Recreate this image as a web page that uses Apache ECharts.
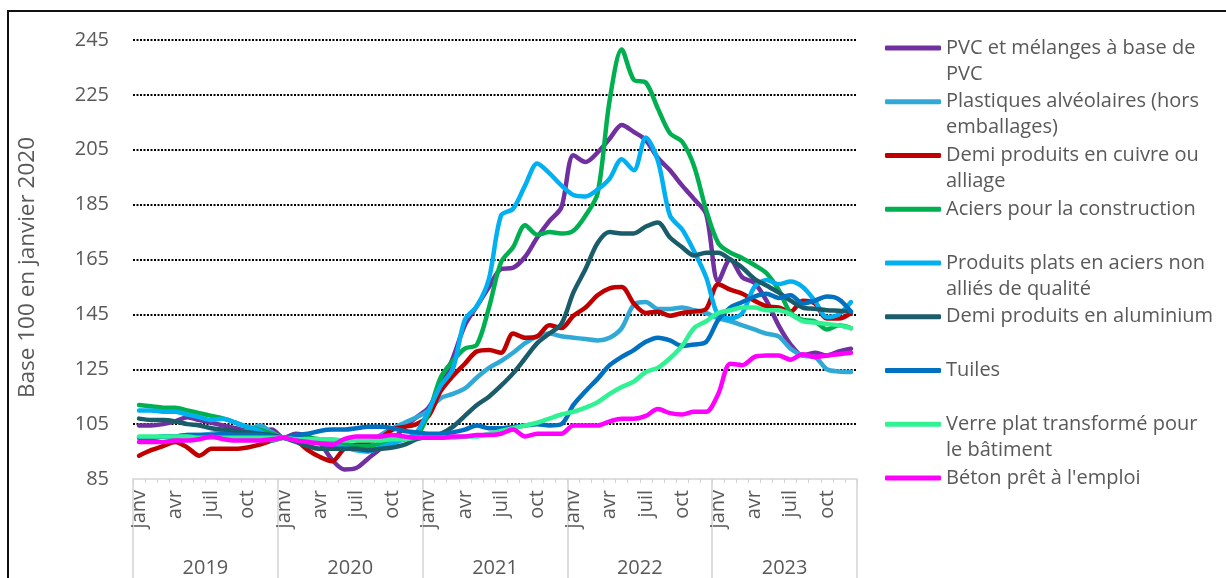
<!DOCTYPE html>
<html>
<head>
<meta charset="utf-8">
<script src="https://cdn.jsdelivr.net/npm/echarts@6/dist/echarts.min.js"></script>
<style>html,body{margin:0;padding:0;background:#fff;}#c{width:1226px;height:578px;}</style>
</head>
<body>
<div id="c"></div>
<script>
const years = ['2019','2020','2021','2022','2023'];
const months = ['janv','févr','mars','avr','mai','juin','juil','août','sept','oct','nov','déc'];
const yTicks = {min: 85, max: 245, step: 20};

const seriesNames = [
  'PVC et mélanges à base de\nPVC',
  'Plastiques alvéolaires (hors\nemballages)',
  'Demi produits en cuivre ou\nalliage',
  'Aciers pour la construction',
  'Produits plats en aciers non\nalliés de qualité',
  'Demi produits en aluminium',
  'Tuiles',
  'Verre plat transformé pour\nle bâtiment',
  "Béton prêt à l'emploi"
];
const seriesColors = ['#7030A0','#31A9D6','#C00000','#00B050','#00B0F0','#1B5C6B','#0070C0','#30F293','#FF00FF'];

const pvc = [104.5,104.5,105,106,107.5,106.5,105.5,104.5,103.5,102.5,102,103,
 100,101.5,100.5,98,92,88.5,89,92.5,96,99,104,107.5,
 111,119,129,141,148,155,161.5,162,166,173,179,184,
 203,200.5,204,209,214,211.5,208.5,202,197.5,192,187,181.5,
 157,165,158.5,156.5,150,141,134,130,131,130,131.5,132.5];
const plastiques = [100,100,100.5,100.5,101,101,101.5,102,102,102.5,104.5,102,
 100,99.5,99,98.5,98,97.5,97,98,101,103.5,105.5,107.5,
 110,114.5,116,118,122,125.5,128,131,134.5,137,138,137,
 136.5,136,135.5,136.5,140,148.5,149.5,147,147,147.5,146.5,145.5,
 143.5,142.5,141,139.5,138,137,132.5,130,129.5,125,124.2,124];
const cuivre = [93.5,95.5,97,98.5,96.5,93.5,96,96,96,96.5,97.5,99,
 100,99,95.5,93,91.5,96,97.5,98.5,100,103,104,105,
 108,117,122.5,127,131.5,132,131,138,136.5,137,141,140,
 144.5,147.5,152,154.5,155,149,145.5,146,144.5,145.5,146,147,
 156,154,152.5,150,148,147.5,146,150,149,143.5,143.5,145.5];
const aciers = [112,111.5,111,111,110,109,108,107,105.5,104,103,101.5,
 100,100.5,100,99.5,99,98,97,97,98,99,99.5,100.5,
 109,122,128,132.5,134,147.5,164,169.5,177.5,174,175,174.5,
 175.5,181,189,223,241.5,230.5,229.5,220,211,208,199,183,
 171,167.5,165.5,163,160,154,145.5,143,142.5,139.5,141,140];
const plats = [110,110,109.5,109.5,108.5,107.5,106.5,107,105.5,104,102.5,99,
 100,99,98.5,98,97,96.5,95.5,95,96.5,98,99.5,102,
 110,119,125,143,148,158,181,183.5,192,200,196.5,192,
 188.5,188,190.5,194.5,201.5,197.5,209.5,201,181,176,168,158.5,
 144.5,143.5,145.5,155,157.5,156,157,155,150,144,145,149.5];
const aluminium = [107,106.5,106.5,106,105,104.5,103.5,103,102.5,102,101.5,101,
 100,98.5,97,96,96,96,96,95.5,96,96.5,97.5,99.5,
 100.5,101.5,104,108,112,115,119,123.5,129,134.5,138,141.5,
 153,161.5,171,175,174.5,174.5,177,178.5,173,169.5,166.5,167.5,
 167.5,165,162,158,155.5,153,150,147.5,147,146.5,146.3,146];
const tuiles = [100,100,100.5,100.5,101,101,101,101.5,101,101,101,100.5,
 100,101,101.5,102.5,103,103,103.5,104,104,103.5,102.5,102,
 101.5,101.5,102,103,104.5,103.5,103.5,104,104.5,105,104.5,105,
 112,117,121.5,126.5,129.5,132,135,136.5,135.5,133.5,134,135,
 143,147.5,149.5,151.5,152.5,151,152,149,150,151.5,150.5,146];
const verre = [100.5,100.5,100.5,100.5,100.5,100,100,100,100,100,100,100,
 100,99.5,99.5,99.5,99.5,99,99,99,99,99.5,99.5,100,
 100,100,100,100.5,100.5,101.5,102.5,103.5,104.5,105.5,107,108.5,
 109.5,111,113,116,118.5,120.5,124,125.5,129,133.5,140,142.5,
 145.5,146.5,147.5,147.5,146.5,146.5,145,142.5,142,141.5,141,140];
const beton = [98.5,98.5,98.5,99,99,99.5,100.5,99.5,99,99,99,99.5,
 100,99,98.5,98,97.5,99.5,100.5,100.5,100.5,101,100.5,100,
 100,100,100.5,100.5,101,101,101.5,103,100.5,101.5,101.5,101.5,
 104.5,104.5,104.5,106,107,107,108,110.5,109,108.5,109.5,109.5,
 116,127,126.5,129.5,130,130,128.5,130.5,129.5,130,130.5,131];

const seriesData = [pvc, plastiques, cuivre, aciers, plats, aluminium, tuiles, verre, beton];

const categories = [];
years.forEach(y => months.forEach(m => categories.push(m + ' ' + y)));

const FONT = '"Open Sans", "Noto Sans", sans-serif';
const TXT = '#595959';

const chart = echarts.init(document.getElementById('c'), null, {renderer: 'canvas'});
const nGrid = (yTicks.max - yTicks.min) / yTicks.step + 1;
const splitColors = [];
for (let i = 0; i < nGrid; i++) splitColors.push(i === 0 ? 'rgba(0,0,0,0)' : '#000');

chart.setOption({
  animation: false,
  backgroundColor: '#fff',
  textStyle: {fontFamily: FONT},
  grid: {left: 133, right: 369, top: 40, bottom: 99, containLabel: false},
  graphic: [{
    type: 'rect', silent: true, z: 100,
    shape: {x: 8, y: 11, width: 1400, height: 800},
    style: {fill: 'none', stroke: '#111', lineWidth: 2}
  }],
  legend: {
    orient: 'vertical', left: 885, top: 9, padding: 0,
    itemGap: -24.25, itemWidth: 56, itemHeight: 5, icon: 'roundRect',
    data: seriesNames,
    formatter: function (n) { return '\n' + n + (n.indexOf('\n') >= 0 ? '' : '\n '); },
    textStyle: {fontFamily: FONT, fontSize: 20, color: TXT, lineHeight: 26}
  },
  xAxis: [{
    type: 'category', data: categories, boundaryGap: true, position: 'bottom',
    axisLine: {show: true, lineStyle: {color: '#d4d4d4', width: 1.5}},
    axisTick: {show: true, interval: 0, length: 4, lineStyle: {color: '#d4d4d4'}},
    axisLabel: {
      interval: function (i) { return i % 3 === 0; },
      formatter: function (v, i) { return months[i % 12]; },
      rotate: 90, margin: 11, fontFamily: FONT, fontSize: 20, color: TXT
    },
    splitLine: {show: false}
  }, {
    type: 'category', data: years, boundaryGap: true, position: 'bottom', offset: 0,
    axisLine: {show: false},
    axisTick: {show: true, interval: 0, length: 99, lineStyle: {color: '#d4d4d4', width: 1.5}},
    axisLabel: {interval: 0, margin: 79, fontFamily: FONT, fontSize: 20, color: TXT},
    splitLine: {show: false}
  }],
  yAxis: {
    type: 'value', min: yTicks.min, max: yTicks.max, interval: yTicks.step,
    name: 'Base 100 en janvier 2020', nameLocation: 'middle', nameGap: 94,
    nameTextStyle: {fontFamily: FONT, fontSize: 22.5, color: TXT, padding: [0, 16, 0, 0]},
    axisLine: {show: false}, axisTick: {show: false},
    axisLabel: {margin: 24, fontFamily: FONT, fontSize: 20, color: TXT},
    splitLine: {show: true, lineStyle: {color: splitColors, width: 2, type: [2, 1.5]}}
  },
  series: seriesNames.map((n, k) => ({
    name: n, type: 'line', data: seriesData[k], smooth: 0.3,
    symbol: 'none', xAxisIndex: 0,
    color: seriesColors[k],
    lineStyle: {width: 4.5, color: seriesColors[k], cap: 'round', join: 'round'}
  }))
});
</script>
</body>
</html>
